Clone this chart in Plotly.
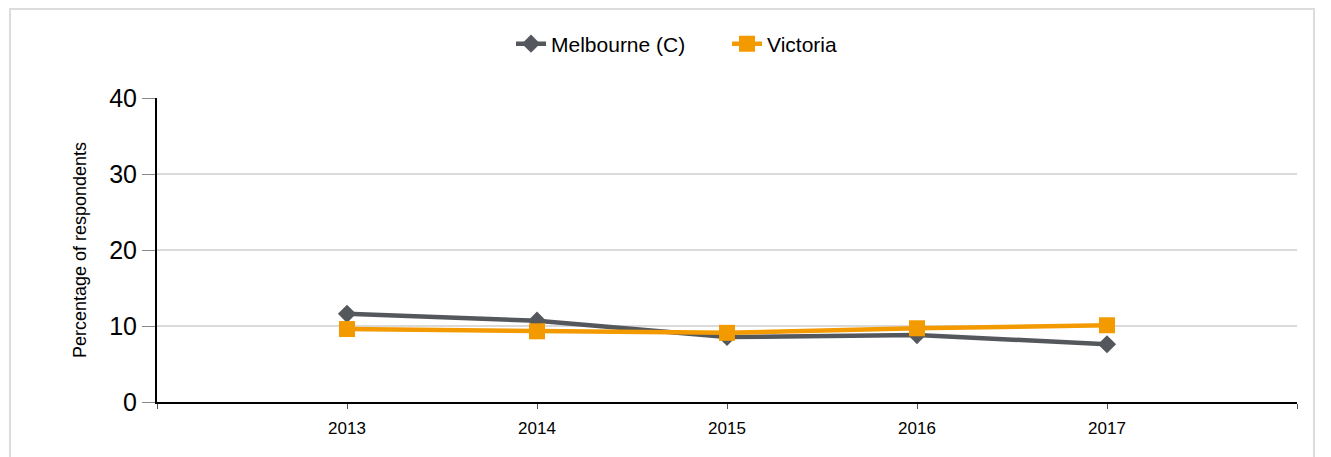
import plotly.graph_objects as go

years = [2013, 2014, 2015, 2016, 2017]
melbourne = [11.6, 10.7, 8.55, 8.8, 7.6]
victoria = [9.6, 9.3, 9.1, 9.7, 10.1]
tick_years = [2012, 2013, 2014, 2015, 2016, 2017, 2018]
tick_labels = ["", "2013", "2014", "2015", "2016", "2017", ""]

OFF = 8  # default page body margin
W, H = 1331 - OFF, 457 - OFF
L, R, T, B = 157 - OFF, 34, 98 - OFF, 55
pw, ph = W - L - R, H - T - B

fig = go.Figure()
fig.add_trace(go.Scatter(
    x=years, y=melbourne, name="Melbourne (C)", mode="lines+markers",
    line=dict(color="#54575c", width=4.5),
    marker=dict(symbol="diamond", size=14, color="#54575c"),
))
fig.add_trace(go.Scatter(
    x=years, y=victoria, name="Victoria", mode="lines+markers",
    line=dict(color="#f39a00", width=4.5),
    marker=dict(symbol="square", size=16, color="#f39a00"),
))

def px(x):
    return (x - OFF - L) / pw

def py(y):
    return (H + OFF - B - y) / ph

fig.add_shape(type="rect", xref="paper", yref="paper",
              x0=px(10), x1=px(1314), y0=py(475), y1=py(9),
              line=dict(color="#dcdcdc", width=2), layer="below")

fig.update_layout(
    width=W, height=H,
    margin=dict(l=L, r=R, t=T, b=B),
    paper_bgcolor="white", plot_bgcolor="white",
    font=dict(family="Liberation Sans, Arial, sans-serif", color="#000"),
    showlegend=True,
    legend=dict(orientation="h", x=0.5, xanchor="center", y=py(44), yanchor="middle",
                font=dict(size=21), entrywidth=171, traceorder="normal"),
    xaxis=dict(range=[2012, 2018], tickvals=tick_years, ticktext=tick_labels,
               showgrid=False, showline=True, linecolor="#000", linewidth=2,
               ticks="outside", ticklen=5, tickcolor="#555", tickwidth=1,
               ticklabelstandoff=5,
               tickfont=dict(size=17), zeroline=False),
    yaxis=dict(range=[0, 40], tickvals=[0, 10, 20, 30, 40],
               showgrid=True, gridcolor="#dadada", gridwidth=2,
               showline=True, linecolor="#000", linewidth=2,
               ticks="outside", ticklen=13, tickcolor="#888", tickwidth=1,
               tickfont=dict(size=25), zeroline=False,
               title=dict(text="Percentage of respondents", font=dict(size=18), standoff=18)),
)

fig.write_html("out.html")
